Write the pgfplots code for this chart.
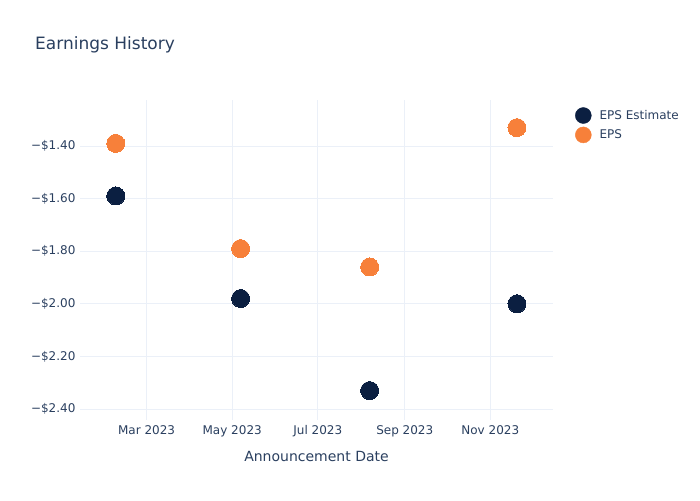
\documentclass[border=0pt]{standalone}
\usepackage{pgfplots}
\pgfplotsset{compat=1.18}
\usepackage{fontspec}
\setmainfont{DejaVu Sans}
\definecolor{txt}{HTML}{2A3F5F}
\definecolor{navy}{HTML}{0B1F41}
\definecolor{orng}{HTML}{F7803A}
\definecolor{grd}{HTML}{EBF0F8}
\begin{document}
\begin{tikzpicture}[x=1pt,y=1pt]
\path[use as bounding box] (0,0) rectangle (700,500);
\node[anchor=west, inner sep=0pt, text=txt, font=\fontsize{17}{20}\selectfont] at (35,455) {Earnings History};
\begin{axis}[
  at={(80pt,80pt)}, anchor=south west,
  scale only axis, width=473pt, height=320pt,
  xmin=11.5, xmax=348.7, ymin=-2.442, ymax=-1.225,
  axis line style={draw=none},
  xtick={59,120,181,243,304},
  xticklabels={Mar 2023,May 2023,Jul 2023,Sep 2023,Nov 2023},
  ytick={-2.4,-2.2,-2.0,-1.8,-1.6,-1.4},
  yticklabels={−\$2.40,−\$2.20,−\$2.00,−\$1.80,−\$1.60,−\$1.40},
  major tick length=0pt,
  grid=major, grid style={draw=grd, line width=0.8pt},
  tick label style={text=txt, font=\fontsize{12}{14}\selectfont},
  xticklabel style={yshift=-2pt},
  yticklabel style={xshift=-1pt},
  xlabel={Announcement Date},
  xlabel style={at={(axis description cs:0.5,-0.1125)}, anchor=center, text=txt, font=\fontsize{14}{17}\selectfont},
  legend style={at={(1.04,0.984)}, anchor=north west, draw=none, fill=none,
    font=\fontsize{12}{14}\selectfont, text=txt, row sep=3pt,
    legend cell align=left},
  legend image code/.code={\fill[#1] (6pt,0) circle (8pt); \path (20pt,0);},
  clip=false,
]
\addplot[only marks, mark=*, mark size=9pt, color=navy, fill=navy, mark options={line width=0pt}]
 coordinates {(37,-1.59) (126,-1.98) (218,-2.33) (323,-2.00)};
\addlegendentry{EPS Estimate}
\addplot[only marks, mark=*, mark size=9pt, color=orng, fill=orng, mark options={line width=0pt}]
 coordinates {(37,-1.39) (126,-1.79) (218,-1.86) (323,-1.33)};
\addlegendentry{EPS}
\end{axis}
\end{tikzpicture}
\end{document}
